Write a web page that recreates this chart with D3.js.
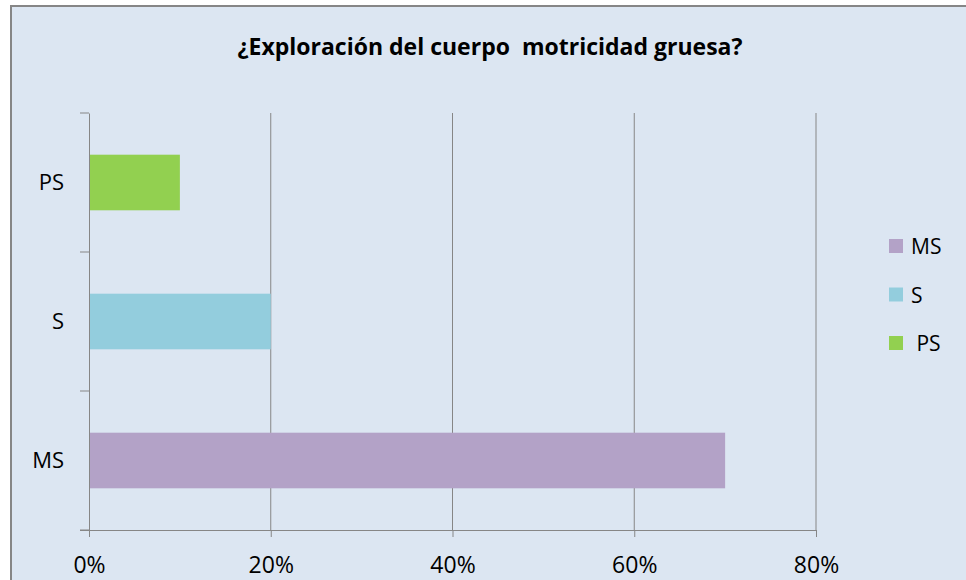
<!DOCTYPE html>
<html>
<head>
<meta charset="utf-8">
<script src="https://cdn.jsdelivr.net/npm/d3@7"></script>
<style>
  body { margin: 0; background: #ffffff; }
  svg { display: block; }
</style>
</head>
<body>
<div id="chart"></div>
<script>
// Data
const categories = ["MS", "S", "PS"];
const values = [0.70, 0.20, 0.10];
const colors = ["#b3a2c7", "#93cddd", "#92d050"];
const xTicks = [0, 0.2, 0.4, 0.6, 0.8];
const legendLabels = ["MS", "S", " PS"];
const title = "¿Exploración del cuerpo  motricidad gruesa?";

const width = 966;
const height = 580;
const margin = { top: 113, bottom: 50, left: 89, right: 150 };
const fontFamily = "Open Sans, Noto Sans, sans-serif";

const svg = d3
  .select("#chart")
  .append("svg")
  .attr("width", width)
  .attr("height", height);

// Chart area background + border
svg
  .append("rect")
  .attr("x", 11)
  .attr("y", 6)
  .attr("width", width)
  .attr("height", height)
  .attr("fill", "#dce6f2")
  .attr("stroke", "#868686")
  .attr("stroke-width", 2);

svg
  .append("text")
  .attr("x", 490)
  .attr("y", 55)
  .attr("text-anchor", "middle")
  .attr("font-family", fontFamily)
  .attr("font-weight", "bold")
  .attr("font-size", "23px")
  .attr("fill", "#000")
  .style("white-space", "pre")
  .text(title);

const xScale = d3
  .scaleLinear()
  .domain([0, 0.8])
  .range([margin.left, 816]);

const yScale = d3
  .scaleBand()
  .domain(categories.slice().reverse())
  .range([margin.top, height - margin.bottom])
  .paddingInner(0.6)
  .paddingOuter(0.3);

// Gridlines
svg
  .append("g")
  .selectAll("line")
  .data(xTicks.slice(1))
  .enter()
  .append("line")
  .attr("x1", (d) => xScale(d))
  .attr("x2", (d) => xScale(d))
  .attr("y1", margin.top)
  .attr("y2", height - margin.bottom)
  .attr("stroke", "#868686")
  .attr("stroke-width", 1);

// Bars
svg
  .append("g")
  .selectAll("rect")
  .data(categories)
  .enter()
  .append("rect")
  .attr("x", xScale(0))
  .attr("y", (d) => yScale(d))
  .attr("width", (d, i) => xScale(values[i]) - xScale(0))
  .attr("height", yScale.bandwidth())
  .attr("fill", (d, i) => colors[i]);

// Axes
const xAxis = svg
  .append("g")
  .attr("transform", `translate(0, ${height - margin.bottom})`)
  .call(
    d3
      .axisBottom(xScale)
      .tickValues(xTicks)
      .tickFormat(d3.format(".0%"))
      .tickSize(7)
      .tickSizeOuter(0)
      .tickPadding(20)
  );

xAxis.select(".domain").attr("stroke", "#868686").attr("d", `M80,0.5H816`);
xAxis.selectAll(".tick line").attr("stroke", "#868686");
xAxis
  .selectAll(".tick text")
  .attr("font-family", fontFamily)
  .attr("font-size", "23px")
  .attr("fill", "#000");

const yAxis = svg
  .append("g")
  .attr("transform", `translate(${margin.left}, 0)`)
  .call(d3.axisLeft(yScale).tickSize(0).tickPadding(25));

yAxis.select(".domain").attr("stroke", "#868686");
yAxis
  .selectAll(".tick text")
  .attr("font-family", fontFamily)
  .attr("font-size", "22px")
  .attr("fill", "#000");

// Category separator ticks
const sepTicks = d3.range(categories.length + 1).map(
  (i) => margin.top + i * ((height - margin.bottom - margin.top) / categories.length)
);
svg
  .append("g")
  .selectAll("line")
  .data(sepTicks)
  .enter()
  .append("line")
  .attr("x1", 80)
  .attr("x2", margin.left)
  .attr("y1", (d) => d)
  .attr("y2", (d) => d)
  .attr("stroke", "#868686");

// Legend
const legend = svg
  .append("g")
  .selectAll("g")
  .data(legendLabels)
  .enter()
  .append("g")
  .attr("transform", (d, i) => `translate(889, ${239 + i * 48.5})`);

legend
  .append("rect")
  .attr("width", 14)
  .attr("height", 14)
  .attr("fill", (d, i) => colors[i]);

legend
  .append("text")
  .attr("x", 22)
  .attr("y", 15)
  .attr("font-family", fontFamily)
  .attr("font-size", "21px")
  .attr("fill", "#000")
  .style("white-space", "pre")
  .text((d) => d);
</script>
</body>
</html>
